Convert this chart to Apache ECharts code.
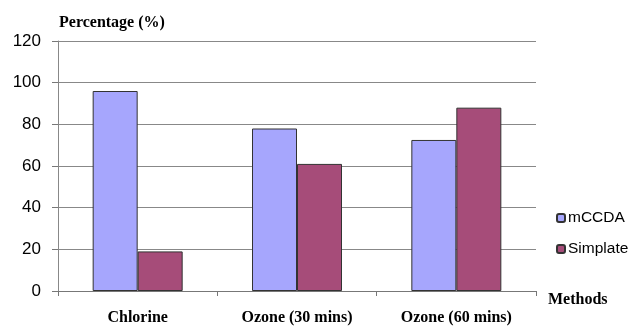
<!DOCTYPE html>
<html><head><meta charset="utf-8">
<script src="https://cdn.jsdelivr.net/npm/echarts@6/dist/echarts.min.js"></script>
<style>html,body{margin:0;padding:0;background:#fff}#c{width:628px;height:329px}</style>
</head><body><div id="c"></div>
<script>
const categories = ['Chlorine', 'Ozone (30 mins)', 'Ozone (60 mins)'];
const mccda = [96, 78, 72.5];
const simplate = [19, 61, 88];
const yTicks = [0, 20, 40, 60, 80, 100, 120];

const chart = echarts.init(document.getElementById('c'));
const serif = '"Liberation Serif","Times New Roman",serif';
const sans = '"Liberation Sans",Arial,sans-serif';
chart.setOption({
  animation: false,
  backgroundColor: '#fff',
  grid: {left: 58, right: 92, top: 41, bottom: 38},
  title: {text: 'Percentage (%)', left: 54, top: 10, textStyle: {fontFamily: serif, fontWeight: 'bold', fontSize: 16, color: '#000'}},
  legend: {
    orient: 'vertical', left: 551, top: 205, itemWidth: 8, itemHeight: 8, itemGap: 15,
    textStyle: {fontFamily: sans, fontSize: 15.5, lineHeight: 16, color: '#000', padding: [0,0,0,-2]},
    data: ['mCCDA', 'Simplate']
  },
  xAxis: {
    type: 'category', data: categories,
    name: 'Methods', nameLocation: 'end', nameGap: 12,
    nameTextStyle: {fontFamily: serif, fontWeight: 'bold', fontSize: 16, color: '#000', verticalAlign: 'top', padding: [1,0,0,0]},
    axisLine: {lineStyle: {color: '#777'}},
    axisTick: {show: true, length: 5, lineStyle: {color: '#777'}},
    axisLabel: {fontFamily: serif, fontWeight: 'bold', fontSize: 16, color: '#000', margin: 19}
  },
  yAxis: {
    type: 'value', min: 0, max: 120, interval: 20,
    axisLine: {show: true, lineStyle: {color: '#888'}},
    axisTick: {show: true, length: 6, lineStyle: {color: '#777'}},
    splitLine: {lineStyle: {color: '#888'}},
    axisLabel: {fontFamily: sans, fontSize: 17, color: '#000', margin: 17,
      formatter: v => yTicks.includes(v) ? String(v) : ''}
  },
  series: [
    {name: 'mCCDA', type: 'bar', data: mccda, barWidth: 45, barGap: '0%',
     itemStyle: {color: '#a6a6fd', borderColor: '#333', borderWidth: 1}},
    {name: 'Simplate', type: 'bar', data: simplate, barWidth: 45,
     itemStyle: {color: '#a64c79', borderColor: '#333', borderWidth: 1}}
  ]
});
</script></body></html>
